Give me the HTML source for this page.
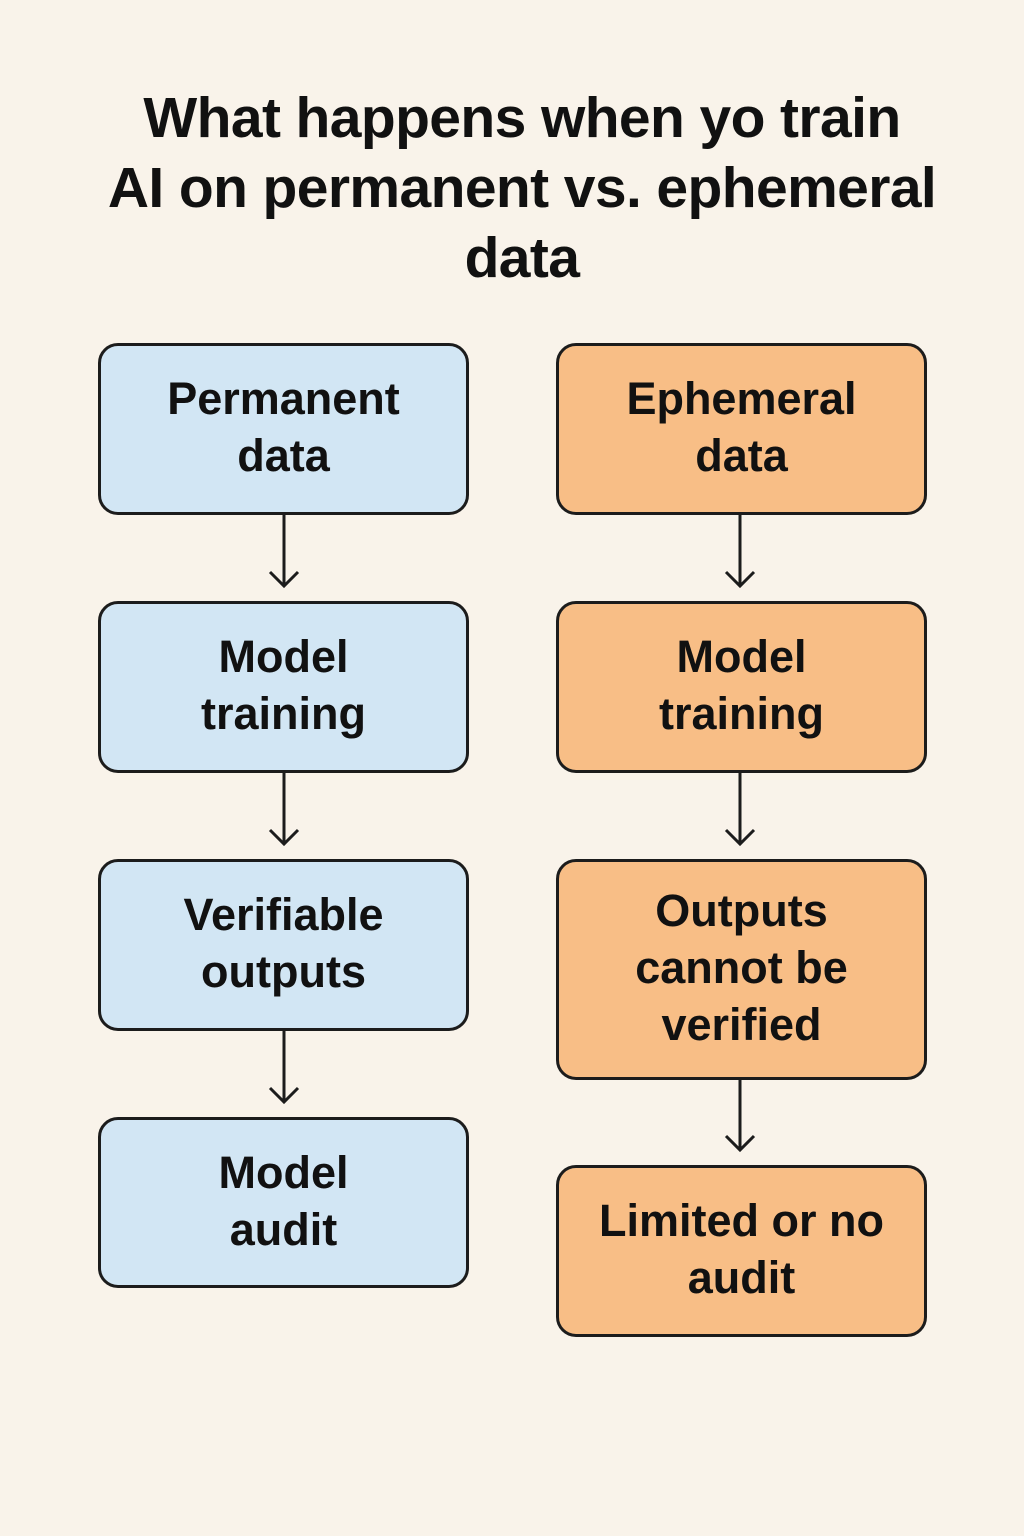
<!DOCTYPE html>
<html><head><meta charset="utf-8"><style>
body{margin:0;width:1024px;height:1536px;background:#f9f3ea;position:relative;font-family:"Liberation Sans",sans-serif;color:#111;overflow:hidden}
.t{position:absolute;left:0;width:1044px;text-align:center;font-size:57px;font-weight:bold;line-height:70px;top:83px;letter-spacing:-0.6px}
.b{position:absolute;box-sizing:border-box;border:3.5px solid #1c1c1c;border-radius:20px;display:flex;align-items:center;justify-content:center;text-align:center;font-size:45px;font-weight:bold;line-height:57px;padding-bottom:4px}
.l{left:98px;width:371px;background:#d2e6f4}
.r{left:556px;width:371px;background:#f8be86}
svg{position:absolute;left:0;top:0}
</style></head><body>
<div class="t">What happens when yo train<br>AI on permanent vs. ephemeral<br>data</div>
<div class="b l" style="top:343px;height:172px">Permanent<br>data</div>
<div class="b l" style="top:601px;height:172px">Model<br>training</div>
<div class="b l" style="top:859px;height:172px">Verifiable<br>outputs</div>
<div class="b l" style="top:1117px;height:171px">Model<br>audit</div>
<div class="b r" style="top:343px;height:172px">Ephemeral<br>data</div>
<div class="b r" style="top:601px;height:172px">Model<br>training</div>
<div class="b r" style="top:859px;height:221px">Outputs<br>cannot be<br>verified</div>
<div class="b r" style="top:1165px;height:172px">Limited or no<br>audit</div>
<svg width="1024" height="1536" fill="none" stroke="#1c1c1c" stroke-width="3">
<path d="M284 515V586M270 572L284 586L298 572"/>
<path d="M284 773V844M270 830L284 844L298 830"/>
<path d="M284 1031V1102M270 1088L284 1102L298 1088"/>
<path d="M740 515V586M726 572L740 586L754 572"/>
<path d="M740 773V844M726 830L740 844L754 830"/>
<path d="M740 1080V1150M726 1136L740 1150L754 1136"/>
</svg>
</body></html>
